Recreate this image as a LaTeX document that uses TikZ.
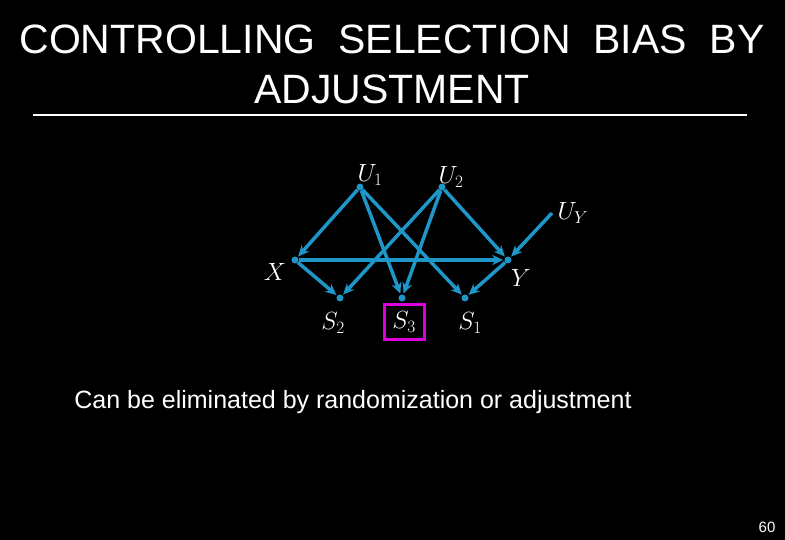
\documentclass[tikz,border=0pt]{standalone}
\usepackage{fontspec}
\setsansfont{Liberation Sans}
\usetikzlibrary{arrows.meta}
\definecolor{edge}{RGB}{30,150,200}
\definecolor{boxc}{RGB}{220,0,220}
\begin{document}
\begin{tikzpicture}[x=1pt,y=-1pt,
  dot/.style={circle,fill=edge,inner sep=0pt,minimum size=7pt},
  arr/.style={draw=edge,line width=3.5pt,-{Stealth[length=11pt,width=10pt]},shorten >=1pt},
  lab/.style={text=white,font=\fontsize{27}{29}\selectfont}]
\fill[black] (0,0) rectangle (785,540);
\useasboundingbox (0,0) rectangle (785,540);
\node[text=white,font=\sffamily\fontsize{41}{50}\selectfont,align=center] (title) at (392,64) {CONTROLLING\ \ SELECTION\ \ BIAS\ \ BY\\ADJUSTMENT};
\coordinate (l1) at (33,115); \coordinate (l2) at (747,115);
\draw[white,line width=1.2pt] (l1) -- (l2);
\node[dot] (U1) at (360,187) {};
\node[dot] (U2) at (442,187) {};
\coordinate (UY) at (552,213);
\node[dot] (X) at (295,260) {};
\node[dot] (Y) at (508,260) {};
\node[dot] (S2) at (340,298) {};
\node[dot] (S3) at (402,298) {};
\node[dot] (S1) at (465,298) {};
\draw[arr] (U1) -- (X);
\draw[arr] (U1) -- (S3);
\draw[arr] (U1) -- (S1);
\draw[arr] (U2) -- (S2);
\draw[arr] (U2) -- (S3);
\draw[arr] (U2) -- (Y);
\draw[arr] (UY) -- (Y);
\draw[arr] (X) -- (Y);
\draw[arr] (X) -- (S2);
\draw[arr] (Y) -- (S1);
\node[lab] (lU1) at (370,175) {$U_1$};
\node[lab] (lU2) at (451,177) {$U_2$};
\node[lab] (lUY) at (573,213) {$U_Y$};
\node[lab] (lX) at (275,272) {$X$};
\node[lab] (lY) at (521,278) {$Y$};
\node[lab] (lS2) at (333,323) {$S_2$};
\node[lab,draw=boxc,line width=3pt,minimum width=40pt,minimum height=35pt,inner sep=0pt] (lS3) at (404,322) {$S_3$};
\node[lab] (lS1) at (470,323) {$S_1$};
\node[text=white,font=\sffamily\fontsize{25}{28}\selectfont] (cap) at (353,402) {Can be eliminated by randomization or adjustment};
\node[text=white,font=\sffamily\fontsize{15}{16}\selectfont] (pg) at (767,527) {60};
\end{tikzpicture}
\end{document}
